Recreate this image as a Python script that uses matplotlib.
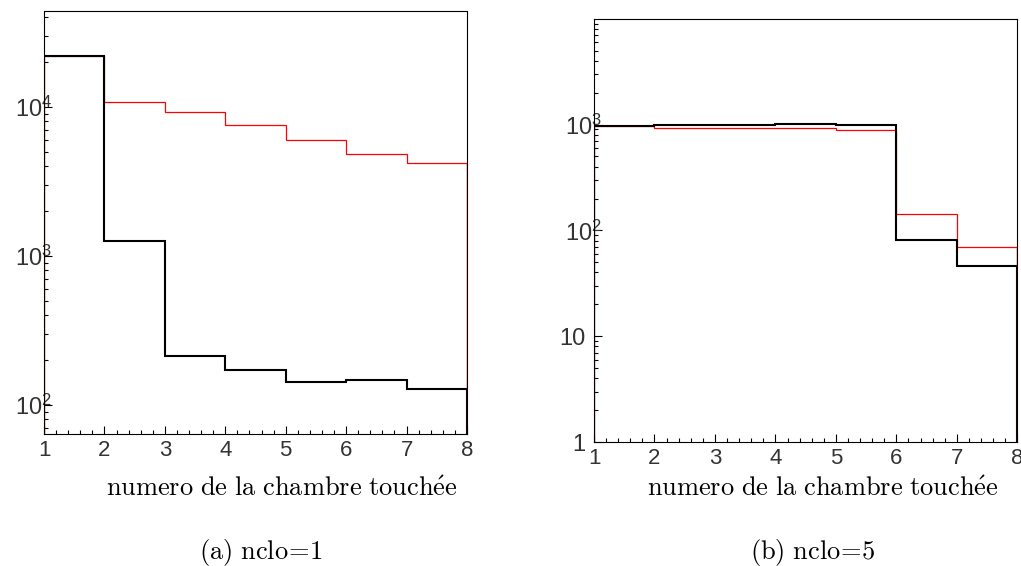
import matplotlib
matplotlib.use("Agg")
import matplotlib.pyplot as plt
import matplotlib.transforms as mtransforms
import numpy as np
from matplotlib.ticker import FixedLocator, MultipleLocator, LogLocator, NullFormatter

plt.rcParams["font.family"] = ["Liberation Sans", "DejaVu Sans"]
plt.rcParams["mathtext.fontset"] = "custom"
plt.rcParams["mathtext.rm"] = "Liberation Sans"
plt.rcParams["mathtext.it"] = "Liberation Sans"
plt.rcParams["mathtext.bf"] = "Liberation Sans"

# chamber edges (bins 1..8)
EDGES = [1, 2, 3, 4, 5, 6, 7, 8]

# panel (a): nclo=1
A_BLACK = [22000, 1250, 213, 172, 142, 147, 127]
A_RED = [22000, 10750, 9300, 7540, 6030, 4865, 4210]
A_YLIM = (63.8, 44000)
A_YTICKS = [1e2, 1e3, 1e4]
A_YLABELS = [r"$10^{2}$", r"$10^{3}$", r"$10^{4}$"]

# panel (b): nclo=5
B_BLACK = [975, 1000, 985, 1020, 1000, 80.6, 46]
B_RED = [963, 937, 920, 924, 890, 144, 69.7]
B_YLIM = (1, 10000)
B_YTICKS = [1, 10, 1e2, 1e3]
B_YLABELS = ["1", "10", r"$10^{2}$", r"$10^{3}$"]

XTICKS = [1, 2, 3, 4, 5, 6, 7, 8]
XLABEL = r"$\mathrm{numero\ de\ la\ chambre\ touch\acute{e}e}$"
CAPTIONS = [r"$\mathrm{(a)\ nclo\!=\!1}$", r"$\mathrm{(b)\ nclo\!=\!5}$"]


def draw_panel(ax, black, red, ylim, yticks, ylabels):
    ax.set_yscale("log")
    ax.stairs(red, EDGES, baseline=1e-3, color="red", lw=0.9, zorder=2)
    ax.stairs(black, EDGES, baseline=1e-3, color="black", lw=1.5, zorder=3)
    # red closing edge sits over the black one, as in the original
    ax.vlines(EDGES[-1], 1e-3, red[-1], color="red", lw=0.9, zorder=4)
    ax.set_xlim(EDGES[0], EDGES[-1])
    ax.set_ylim(*ylim)
    ax.xaxis.set_major_locator(FixedLocator(XTICKS))
    ax.xaxis.set_minor_locator(MultipleLocator(0.2))
    ax.set_xticklabels([str(t) for t in XTICKS])
    ax.yaxis.set_major_locator(FixedLocator(yticks))
    ax.yaxis.set_minor_locator(LogLocator(base=10, subs=np.arange(2, 10)))
    ax.yaxis.set_minor_formatter(NullFormatter())
    ax.set_yticklabels(ylabels)
    ax.tick_params(which="both", direction="in", top=False, right=False, colors="black")
    ax.tick_params(which="major", length=6, width=0.8)
    ax.tick_params(which="minor", length=3, width=0.8)
    ax.tick_params(axis="x", which="major", pad=4, labelsize=16, labelcolor="#333333")
    ax.tick_params(axis="y", which="major", pad=-6, labelsize=17, labelcolor="#333333")
    # plain labels (no exponent) stand further from the axis
    for lab in ax.get_yticklabels():
        if "^" not in lab.get_text():
            shift = mtransforms.ScaledTranslation(-12 / 72, 0, ax.figure.dpi_scale_trans)
            lab.set_transform(lab.get_transform() + shift)
    for s in ax.spines.values():
        s.set_linewidth(0.8)


fig = plt.figure(figsize=(10.21, 5.66), dpi=100)
ax_a = fig.add_axes([0.0431, 0.2332, 0.4143, 0.7474])
ax_b = fig.add_axes([0.5818, 0.219, 0.4146, 0.748])
draw_panel(ax_a, A_BLACK, A_RED, A_YLIM, A_YTICKS, A_YLABELS)
draw_panel(ax_b, B_BLACK, B_RED, B_YLIM, B_YTICKS, B_YLABELS)

for x, y, s in [(282, 489, XLABEL), (823, 489, XLABEL),
                (261, 552, CAPTIONS[0]), (813, 552, CAPTIONS[1])]:
    fig.text(x / 1021, 1 - y / 566, s, ha="center", va="center", fontsize=19,
             math_fontfamily="cm")

fig.savefig("out.png", dpi=100)
